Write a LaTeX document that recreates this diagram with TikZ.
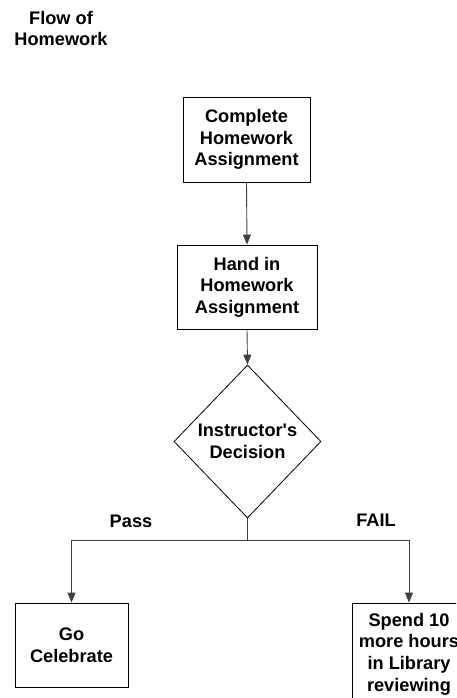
\documentclass[tikz,border=0pt]{standalone}
\usepackage{fontspec}
\setmainfont{Liberation Sans}[Ligatures=TeXOff]
\usetikzlibrary{arrows.meta,shapes.geometric}

\begin{document}
\begin{tikzpicture}[x=1pt,y=-1pt,
  every node/.style={font=\bfseries\fontsize{18.2}{21.6}\selectfont, align=center, inner sep=0pt},
  stepbox/.style={draw=black, line width=0.9pt, rectangle},
  choice/.style={draw=black, line width=0.8pt, diamond, aspect=1},
  link/.style={draw=black!75, line width=0.9pt},
  flow/.style={link, -{Triangle[length=10pt,width=8pt]}}
]
\useasboundingbox (0,0) rectangle (456,698);
\clip (0,0) rectangle (456,698);

% heading
\node (title) at (61,28.5) {Flow of\\Homework};

% process steps
\node[stepbox, minimum width=127pt, minimum height=85pt] (complete) at (246.5,139.5)
  {Complete\\Homework\\Assignment};
\node[stepbox, minimum width=140pt, minimum height=84pt] (handin) at (247,287)
  {Hand in\\Homework\\Assignment};
\node[choice, minimum width=147pt, minimum height=153pt] (decision) at (247.5,441.5)
  {Instructor's\\Decision};

% outcomes
\node[stepbox, minimum width=113pt, minimum height=84pt] (celebrate) at (71.5,645)
  {Go\\Celebrate};
\node[stepbox, minimum width=114pt, minimum height=102pt] (library) at (409,654)
  {Spend 10\\more hours\\in Library\\reviewing};

% branch point below the decision
\coordinate (split) at (247.5,540);

% connectors
\draw[flow] (complete.south) -- (handin.north);
\draw[flow] (handin.south) -- (decision.north);
\draw[link] (decision.south) -- (split);
\draw[flow] (split) -| (celebrate.north);
\draw[flow] (split) -| (library.north);

% branch labels
\node (pass) at (131,521) {Pass};
\node (fail) at (376,520) {FAIL};
\end{tikzpicture}
\end{document}
